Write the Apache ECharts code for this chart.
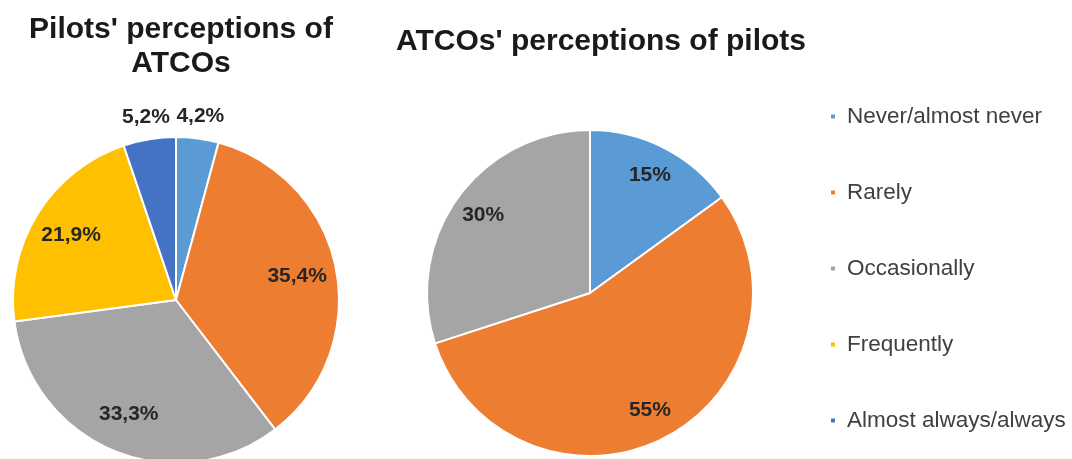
<!DOCTYPE html>
<html>
<head>
<meta charset="utf-8">
<script src="https://cdn.jsdelivr.net/npm/echarts@6/dist/echarts.min.js"></script>
<style>
  html, body { margin: 0; padding: 0; background: #fff; }
  #chart { width: 1072px; height: 459px; }
</style>
</head>
<body>
<div id="chart"></div>
<script>
  // categories (shared by both pies)
  const categories = ['Never/almost never', 'Rarely', 'Occasionally', 'Frequently', 'Almost always/always']
  const colors = ['#5b9bd5', '#ed7d31', '#a5a5a5', '#ffc000', '#4472c4']
  // pilots' perceptions of ATCOs (%)
  const pilotsValues = [4.2, 35.4, 33.3, 21.9, 5.2]
  // ATCOs' perceptions of pilots (%)
  const atcoCategories = ['Never/almost never', 'Rarely', 'Occasionally']
  const atcoValues = [15, 55, 30]
  // small slices get their label outside the pie
  const outsideLimit = 6

  const fmt = p => String(p.value).replace('.', ',') + '%'
  const labelFont = { fontFamily: 'Liberation Sans, Arial, sans-serif', fontWeight: 'bold', fontSize: 21, color: '#262626' }

  const mkData = (names, vals) => names.map((n, i) => ({
    name: n, value: vals[i], itemStyle: { color: colors[categories.indexOf(n)] }
  }))

  // transparent copy of a pie, only used to place its labels
  const labelRing = (center, radius, names, vals, keep) => ({
    type: 'pie', center: center, radius: radius, startAngle: 90, silent: true,
    legendHoverLink: false, emphasis: { disabled: true },
    itemStyle: { color: 'rgba(0,0,0,0)', borderWidth: 0 },
    label: Object.assign({ show: true, position: 'inside', formatter: fmt }, labelFont),
    labelLine: { show: false },
    data: names.map((n, i) => ({
      name: n, value: vals[i],
      itemStyle: { color: 'rgba(0,0,0,0)' },
      label: { show: keep(vals[i]) }
    }))
  })

  const mainPie = (center, names, vals) => ({
    type: 'pie', center: center, radius: 163, startAngle: 90,
    itemStyle: { borderColor: '#fff', borderWidth: 2 },
    label: { show: false }, labelLine: { show: false },
    data: mkData(names, vals)
  })

  let mycharts = echarts.init(document.getElementById('chart'))
  mycharts.setOption({
    animation: false,
    backgroundColor: '#fff',
    graphic: [
      {
        type: 'text', x: 181, y: 13,
        style: {
          text: "Pilots' perceptions of\nATCOs", textAlign: 'center', lineHeight: 34,
          font: 'bold 30px "Liberation Sans", Arial, sans-serif', fill: '#1a1a1a'
        }
      },
      {
        type: 'text', x: 601, y: 25,
        style: {
          text: "ATCOs' perceptions of pilots", textAlign: 'center', lineHeight: 34,
          font: 'bold 30px "Liberation Sans", Arial, sans-serif', fill: '#1a1a1a'
        }
      }
    ],
    legend: {
      orient: 'vertical',
      left: 824,
      top: 100,
      icon: 'rect',
      itemWidth: 6,
      itemHeight: 6,
      itemGap: 53,
      data: categories,
      textStyle: {
        fontFamily: 'Liberation Sans, Arial, sans-serif', fontSize: 22.5, color: '#404040',
        padding: [0, 0, 0, 6]
      }
    },
    series: [
      mainPie([176, 300], categories, pilotsValues),
      mainPie([590, 293], atcoCategories, atcoValues),
      // inside labels
      labelRing([176, 300], [78, 163], categories, pilotsValues, v => v >= outsideLimit),
      labelRing([590, 293], [95, 163], atcoCategories, atcoValues, v => v >= outsideLimit),
      // outside labels for the thin slices
      labelRing([176, 300], [163, 201], categories, pilotsValues, v => v < outsideLimit)
    ]
  })
</script>
</body>
</html>
